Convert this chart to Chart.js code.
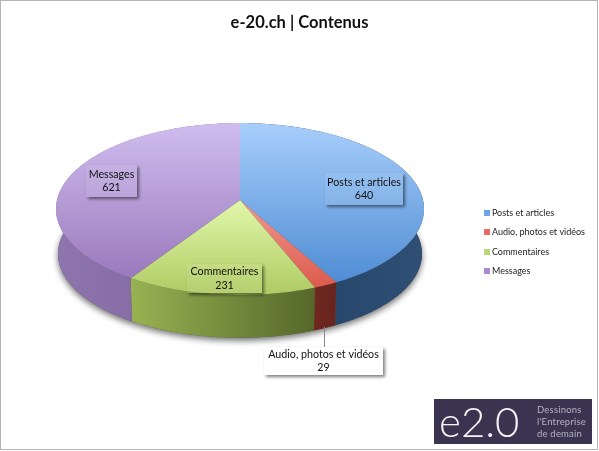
<!DOCTYPE html>
<html>
<head>
<meta charset="utf-8">
<title>e-20.ch | Contenus</title>
<script src="https://cdn.jsdelivr.net/npm/chart.js@4"></script>
<style>
  html, body { margin: 0; padding: 0; background: #fff; }
  canvas { display: block; }
</style>
</head>
<body>
<canvas id="contentPie" width="599" height="451"></canvas>
<script>
const categories = ['Posts et articles', 'Audio, photos et vidéos', 'Commentaires', 'Messages'];
const contentCounts = [640, 29, 231, 621];
const legendColors = ['#6fa4e4', '#e86a60', '#bcd97a', '#a88bd2'];
const topColors = [['#a8cefb', '#4f8dd4'], ['#f09a92', '#dc5a4c'], ['#e2f7ab', '#aecb62'], ['#d0bdee', '#9a79bd']];
const wallColors = [['#1f3f63', '#2f4f74'], ['#70271f', '#66241f'], ['#98b252', '#55682a'], ['#8f75ae', '#7c6199']];
const calloutBoxes = [[325, 173, 78, 32], [264, 347, 119, 28], [187, 264, 75, 29], [86, 165, 51, 32]];

// perspective of the disc, top face and bottom face
const topFace = { x: 240, y: 200, rx: 183, ry: 85, p: 0.1047 };
const bottomFace = { x: 240, y: 245, rx: 181, ry: 83, p: 0.1047 };

function project(face, angle) {
  const u = Math.cos(angle), v = -Math.sin(angle);
  const w = 1 + face.p * v;
  return [face.x + face.rx * u / w, face.y - face.ry * v / w];
}

function rimPoints(face, start, end) {
  const pts = [];
  const n = Math.max(2, Math.ceil((end - start) / 0.02));
  for (let i = 0; i <= n; i++) pts.push(project(face, start + (end - start) * i / n));
  return pts;
}

function tracePath(ctx, pts) {
  ctx.beginPath();
  pts.forEach((p, i) => i ? ctx.lineTo(p[0], p[1]) : ctx.moveTo(p[0], p[1]));
  ctx.closePath();
}

// 6x6 legend swatch, used as point style so it can sit close to the text
function swatch(color) {
  const c = document.createElement('canvas');
  c.width = 6;
  c.height = 6;
  const g = c.getContext('2d');
  g.fillStyle = color;
  g.fillRect(0, 0, 6, 6);
  return c;
}

const pie3d = {
  id: 'pie3d',
  beforeDatasetsDraw(chart) {
    const ctx = chart.ctx;
    const arcs = chart.getDatasetMeta(0).data;

    // soft shadow under the disc
    ctx.save();
    ctx.shadowColor = 'rgba(0,0,0,0.55)';
    ctx.shadowBlur = 6;
    ctx.shadowOffsetY = 3;
    ctx.fillStyle = '#555';
    tracePath(ctx, rimPoints(bottomFace, 0, Math.PI * 2));
    ctx.fill();
    ctx.restore();

    arcs.forEach((arc, i) => {
      const top = rimPoints(topFace, arc.startAngle, arc.endAngle);
      const bottom = rimPoints(bottomFace, arc.startAngle, arc.endAngle);
      const xs = top.map(p => p[0]);
      const g = ctx.createLinearGradient(Math.min(...xs), 0, Math.max(...xs), 0);
      g.addColorStop(0, wallColors[i][0]);
      g.addColorStop(1, wallColors[i][1]);
      ctx.fillStyle = g;
      tracePath(ctx, top.concat(bottom.reverse()));
      ctx.fill();
    });

    arcs.forEach((arc, i) => {
      const rim = rimPoints(topFace, arc.startAngle, arc.endAngle);
      const pts = [[topFace.x, topFace.y]].concat(rim);
      const ys = pts.map(p => p[1]);
      const g = ctx.createLinearGradient(0, Math.min(...ys), 0, Math.max(...ys));
      g.addColorStop(0, topColors[i][0]);
      g.addColorStop(1, topColors[i][1]);
      ctx.fillStyle = g;
      tracePath(ctx, pts);
      ctx.fill();
    });
    return false; // default flat arcs are not wanted
  },
  afterDraw(chart) {
    const ctx = chart.ctx;
    // leader line of the small slice
    ctx.strokeStyle = '#8a8a8a';
    ctx.lineWidth = 1;
    ctx.beginPath();
    ctx.moveTo(324.5, 327);
    ctx.lineTo(324.5, 347);
    ctx.stroke();

    calloutBoxes.forEach((b, i) => {
      ctx.save();
      ctx.beginPath();
      ctx.rect(0, 0, 599, 451);
      ctx.rect(b[0], b[1], b[2], b[3]);
      ctx.clip('evenodd');
      ctx.shadowColor = 'rgba(0,0,0,0.5)';
      ctx.shadowBlur = 3;
      ctx.shadowOffsetX = 2;
      ctx.shadowOffsetY = 2;
      ctx.fillStyle = '#fff';
      ctx.fillRect(b[0], b[1], b[2], b[3]);
      ctx.restore();

      ctx.fillStyle = i === 1 ? '#fff' : 'rgba(255,255,255,0.08)';
      ctx.fillRect(b[0], b[1], b[2], b[3]);
      ctx.fillStyle = '#111';
      ctx.font = '10.7px Lato';
      ctx.textAlign = 'center';
      ctx.textBaseline = 'middle';
      const cx = b[0] + b[2] / 2, cy = b[1] + b[3] / 2;
      ctx.fillText(categories[i], cx, cy - 6.5);
      ctx.fillText(String(contentCounts[i]), cx, cy + 7);
    });

    // logo block
    ctx.fillStyle = '#3a3450';
    ctx.fillRect(434, 399, 158, 45);
    ctx.fillStyle = '#f4f4f6';
    ctx.textAlign = 'left';
    ctx.textBaseline = 'alphabetic';
    ctx.font = '300 42px Lato';
    ctx.fillText('e2.0', 439, 437);
    ctx.fillStyle = '#b6b3c2';
    ctx.font = '9.5px Lato';
    ctx.letterSpacing = '0.2px';
    ctx.fillText('Dessinons', 537, 413);
    ctx.fillText("l'Entreprise", 537, 425);
    ctx.fillText('de demain', 537, 437);
    ctx.letterSpacing = '0px';
    // picture frame
    ctx.strokeStyle = '#b4b4b4';
    ctx.lineWidth = 1;
    ctx.strokeRect(0.5, 0.5, 597, 449);
  }
};

new Chart(document.getElementById('contentPie'), {
  type: 'pie',
  data: {
    labels: categories,
    datasets: [{ data: contentCounts, backgroundColor: legendColors, borderWidth: 0 }]
  },
  options: {
    responsive: false,
    animation: false,
    layout: { padding: { top: 13, right: 4, bottom: 8, left: 4 } },
    plugins: {
      tooltip: { enabled: false },
      title: {
        display: true,
        text: 'e-20.ch | Contenus',
        color: '#111',
        font: { family: 'Lato', size: 16.5, weight: 'bold' },
        padding: { top: 0, bottom: 8 }
      },
      legend: {
        position: 'right',
        fullSize: false,
        labels: {
          usePointStyle: true,
          pointStyleWidth: 1,
          padding: 10.5,
          color: '#222',
          font: { family: 'Lato', size: 9 },
          generateLabels(chart) {
            return Chart.overrides.pie.plugins.legend.labels.generateLabels(chart)
              .map((item, i) => Object.assign(item, { pointStyle: swatch(legendColors[i]) }));
          }
        }
      }
    }
  },
  plugins: [pie3d]
});
</script>
</body>
</html>
